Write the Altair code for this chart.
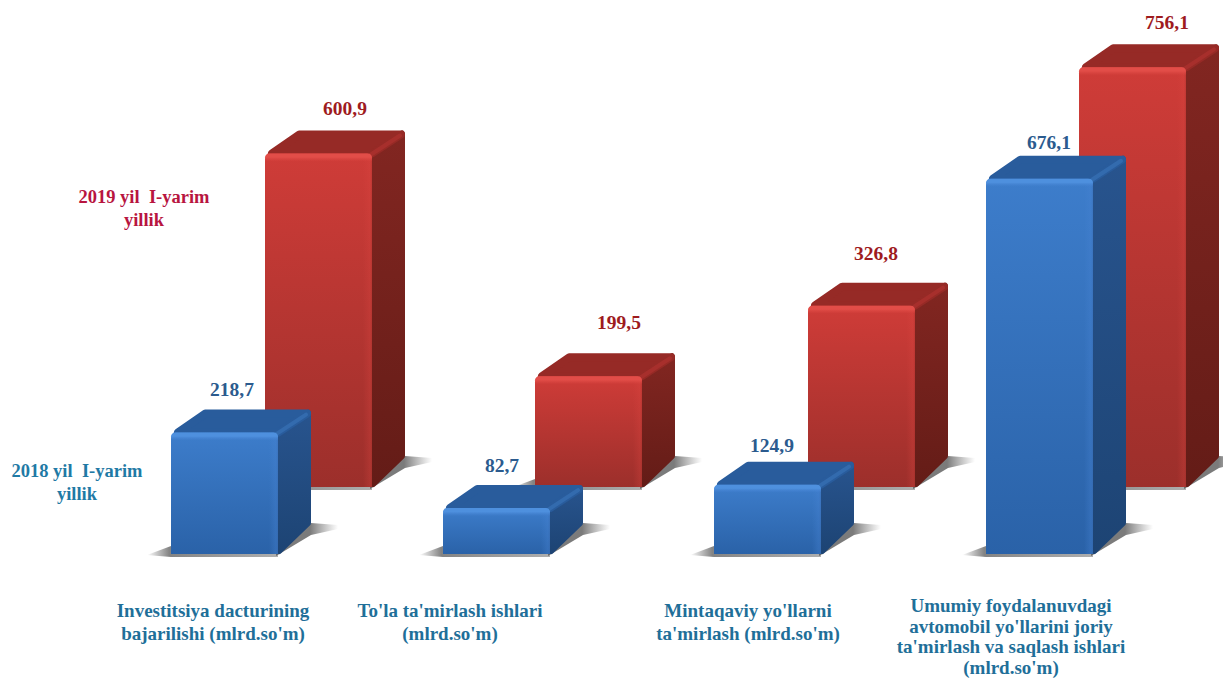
import altair as alt
import pandas as pd

# ---- chart values ----
series_2018 = [218.7, 82.7, 124.9, 676.1]
series_2019 = [600.9, 199.5, 326.8, 756.1]
value_labels_2018 = ["218,7", "82,7", "124,9", "676,1"]
value_labels_2019 = ["600,9", "199,5", "326,8", "756,1"]
category_lines = [
    ["Investitsiya dacturining", "bajarilishi (mlrd.so'm)"],
    ["To'la ta'mirlash ishlari", "(mlrd.so'm)"],
    ["Mintaqaviy yo'llarni", "ta'mirlash (mlrd.so'm)"],
    ["Umumiy foydalanuvdagi", "avtomobil yo'llarini joriy", "ta'mirlash va saqlash ishlari", "(mlrd.so'm)"],
]
legend_2018 = ["2018 yil\u00a0 I-yarim", "yillik"]
legend_2019 = ["2019 yil\u00a0 I-yarim", "yillik"]

# ---- layout (page pixels) ----
W, H = 1215, 671
PX = 0.555           # pixels per value unit
BASE_BLUE, BASE_RED = 554, 487
LEFT_BLUE = [171, 443, 714, 986]
LEFT_RED = [265, 535, 808, 1079]
BAR_W, DX, D_TOP, D_BOT = 107, 33, 23, 28
CAT_X = [213, 450, 748, 1011]
CAT_Y = [(611, 23), (611, 23), (611, 23), (606, 20.5)]
LBL_BLUE = [(232, 390), (502, 466), (772, 446), (1049, 143)]
LBL_RED = [(345, 109), (619, 323), (876, 254), (1167, 23)]
FONT = "Liberation Serif"


def xv(p):
    return p - 8


def yv(p):
    return (BASE_BLUE - p) / PX


def px(n):
    return n / PX


x_scale = alt.Scale(domain=[0, W], range=[0, W], nice=False, zero=False)
y_scale = alt.Scale(domain=[yv(8 + H), yv(8)], range=[H, 0], nice=False, zero=False)
X = alt.X("x:Q", scale=x_scale, axis=None)
Y = alt.Y("y:Q", scale=y_scale, axis=None)
X2 = alt.X2("x2:Q")
Y2 = alt.Y2("y2:Q")


def grad(stops, horizontal=False):
    n = [alt.GradientStop(color=c, offset=o) for o, c in stops]
    if horizontal:
        return alt.LinearGradient(gradient="linear", stops=n, x1=0, x2=1, y1=0, y2=0)
    return alt.LinearGradient(gradient="linear", stops=n, x1=0, x2=0, y1=0, y2=1)


def build(values, lefts, base_px):
    b = yv(base_px)
    front, top, side, edge, sh_l, sh_r, strip_t, strip_r = [], [], [], [], [], [], [], []
    for i, (v, l) in enumerate(zip(values, lefts)):
        l, r = xv(l), xv(l + BAR_W)
        T = b + v
        front.append(dict(x=l, x2=r, y=T, y2=b))
        strip_t.append(dict(x=l, x2=r, y=T, y2=T - px(8)))
        strip_r.append(dict(x=r - 9, x2=r, y=T, y2=b))
        up = T + px(D_TOP - 4)
        for x, y, y2 in [(l + 6.8, T, T), (l + 34.3, up, T), (r, up, T), (r + DX - 4, up, up)]:
            top.append(dict(s=i, x=x, y=y, y2=y2))
        for x, y, y2 in [(r + 1, T - px(3), b + px(3)),
                         (r + DX - 3, T + px(D_TOP - 3), b + px(D_BOT + 3))]:
            side.append(dict(s=i, x=x, y=y, y2=y2))
        for k, (x, y) in enumerate([(r - 1, T - px(1)), (r + DX - 5, T + px(D_TOP - 5))]):
            edge.append(dict(s=i, k=k, x=x, y=y))
        for x, y, y2 in [(l - 24, b - px(1), b - px(1)), (l, b + px(8), b - px(3)),
                         (r, b, b - px(3))]:
            sh_l.append(dict(s=i, x=x, y=y, y2=y2))
        for x, y, y2 in [(r - 2, b, b - px(2)), (r + DX, b + px(D_BOT + 3), b + px(D_BOT - 9)),
                         (r + DX + 27, b + px(D_BOT + 1), b + px(D_BOT - 3))]:
            sh_r.append(dict(s=i, x=x, y=y, y2=y2))
    return {k: pd.DataFrame(d) for k, d in dict(front=front, top=top, side=side, edge=edge,
                                                 sh_l=sh_l, sh_r=sh_r, strip_t=strip_t,
                                                 strip_r=strip_r).items()}


def shadows(d):
    left = alt.Chart(d["sh_l"]).mark_area(
        fill=grad([(0, "rgba(90,90,90,0)"), (0.17, "rgba(90,90,90,0.75)"), (1, "rgba(120,120,120,0.6)")], True)
    ).encode(x=X, y=Y, y2=Y2, detail="s:N")
    right = alt.Chart(d["sh_r"]).mark_area(
        fill=grad([(0, "rgba(90,90,90,0.8)"), (0.55, "rgba(90,90,90,0.8)"), (1, "rgba(110,110,110,0)")], True)
    ).encode(x=X, y=Y, y2=Y2, detail="s:N")
    return [left, right]


def bars(d, c):
    side_g = grad(c["side"])
    front_g = grad(c["front"])
    return [
        alt.Chart(d["side"]).mark_area(fill=side_g, stroke=side_g, strokeWidth=6, strokeJoin="round")
        .encode(x=X, y=Y, y2=Y2, detail="s:N"),
        alt.Chart(d["top"]).mark_area(fill=c["top"], stroke=c["top"], strokeWidth=8, strokeJoin="round")
        .encode(x=X, y=Y, y2=Y2, detail="s:N"),
        alt.Chart(d["edge"]).mark_line(stroke=c["edge"], strokeWidth=4, strokeCap="round", opacity=0.6)
        .encode(x=X, y=Y, detail="s:N", order="k:Q"),
        alt.Chart(d["front"]).mark_rect(fill=front_g, cornerRadiusTopLeft=6, cornerRadiusTopRight=6)
        .encode(x=X, x2=X2, y=Y, y2=Y2),
        alt.Chart(d["strip_r"]).mark_rect(fill=grad([(0, c["clear"]), (0.75, c["glow"]), (1, c["glow2"])], True),
                                          cornerRadiusTopRight=6)
        .encode(x=X, x2=X2, y=Y, y2=Y2),
        alt.Chart(d["strip_t"]).mark_rect(fill=grad([(0, c["hi"]), (0.45, c["hi"]), (1, c["clear"])]),
                                          cornerRadiusTopLeft=6, cornerRadiusTopRight=6)
        .encode(x=X, x2=X2, y=Y, y2=Y2),
    ]


def text_layer(rows, color, size):
    return alt.Chart(pd.DataFrame(rows)).mark_text(
        font=FONT, fontWeight="bold", fontSize=size, color=color, align="center", baseline="middle"
    ).encode(x=X, y=Y, text="t:N")


BLUE = dict(front=[(0, "#3d7dcb"), (1, "#2a62a8")], side=[(0, "#28548e"), (1, "#1d4474")], top="#295c9c",
            edge="#3a74ba", hi="#4e90de", clear="rgba(70,130,210,0)", glow="rgba(70,130,210,0.35)",
            glow2="rgba(60,110,180,0.5)")
RED = dict(front=[(0, "#cf3c38"), (1, "#9c2f2b")], side=[(0, "#822621"), (1, "#641c17")], top="#962a26",
           edge="#b23430", hi="#e24d48", clear="rgba(220,70,65,0)", glow="rgba(220,70,65,0.25)",
           glow2="rgba(170,50,45,0.45)")

d_red = build(series_2019, LEFT_RED, BASE_RED)
d_blue = build(series_2018, LEFT_BLUE, BASE_BLUE)

rows_cat = [dict(x=xv(cx), y=yv(y0 + j * dy), t=t)
            for cx, (y0, dy), lines in zip(CAT_X, CAT_Y, category_lines) for j, t in enumerate(lines)]
rows_blue = [dict(x=xv(p[0]), y=yv(p[1]), t=t) for p, t in zip(LBL_BLUE, value_labels_2018)]
rows_red = [dict(x=xv(p[0]), y=yv(p[1]), t=t) for p, t in zip(LBL_RED, value_labels_2019)]
rows_l18 = [dict(x=xv(77), y=yv(471 + j * 23), t=t) for j, t in enumerate(legend_2018)]
rows_l19 = [dict(x=xv(144), y=yv(197 + j * 23), t=t) for j, t in enumerate(legend_2019)]

layers = (
    shadows(d_red) + bars(d_red, RED) + shadows(d_blue) + bars(d_blue, BLUE)
    + [
        text_layer(rows_blue, "#2b5b8e", 19.5),
        text_layer(rows_red, "#9e1b1e", 19.5),
        text_layer(rows_cat, "#1f6f99", 19),
        text_layer(rows_l18, "#1f7aa5", 18.5),
        text_layer(rows_l19, "#b8153f", 18.5),
    ]
)

chart = alt.layer(*layers).properties(
    width=W, height=H, padding=0, autosize=alt.AutoSizeParams(type="none")
).configure_view(stroke=None)
chart.save("out.html", embed_options={"renderer": "svg", "actions": False})
